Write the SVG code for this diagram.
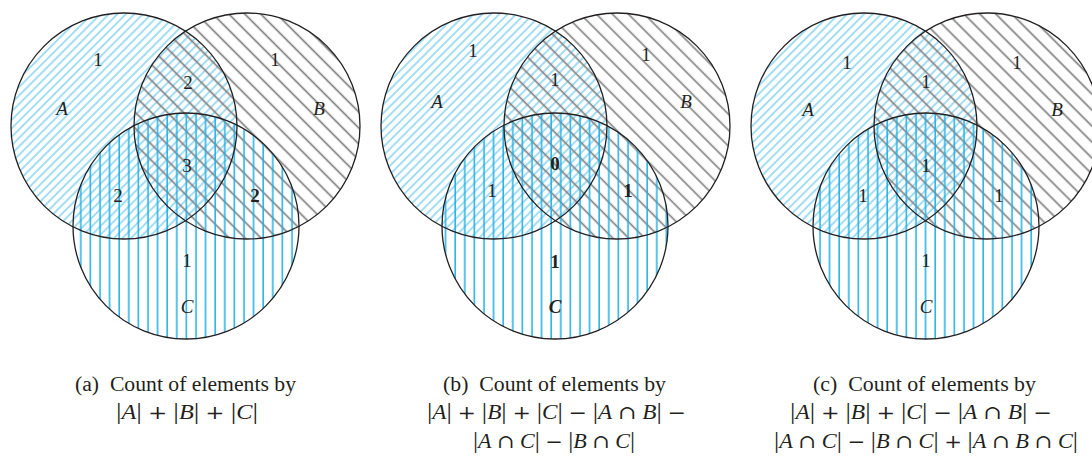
<svg xmlns="http://www.w3.org/2000/svg" width="1092" height="456" viewBox="0 0 1092 456">
<style>
.ring{fill:none;stroke:#231f20;stroke-width:1.3}
.lbl{font-family:"Liberation Serif",serif;font-size:19px;fill:#231f20;text-anchor:middle}
.it{font-style:italic}
.bd{font-weight:bold}
.cap{font-family:"Liberation Serif",serif;font-size:20px;fill:#231f20}
.bar{font-size:23px}
.op{font-family:"DejaVu Serif","Liberation Serif",serif;font-size:19px}
</style>
<defs>
<pattern id="hatchA" width="6" height="6" patternUnits="userSpaceOnUse" patternTransform="rotate(45)">
<line x1="3" y1="-1" x2="3" y2="7" stroke="#66c8ef" stroke-width="1.2"/>
</pattern>
<pattern id="hatchB" width="11.3" height="11.3" patternUnits="userSpaceOnUse" patternTransform="rotate(-45)">
<line x1="5" y1="-1" x2="5" y2="12.3" stroke="#848484" stroke-width="1.7"/>
</pattern>
<pattern id="hatchC" width="9.6" height="10" patternUnits="userSpaceOnUse">
<line x1="4" y1="-1" x2="4" y2="11" stroke="#1fb0e8" stroke-width="1.5"/>
</pattern>
</defs>

<g id="diagram-a">
<g id="a-fills">
<circle cx="124" cy="126" r="113" fill="url(#hatchA)"/>
<circle cx="247" cy="126" r="113" fill="url(#hatchB)"/>
<circle cx="186" cy="226" r="113" fill="url(#hatchC)"/>
</g>
<g id="a-set-A"><circle class="ring" cx="124" cy="126" r="113"/></g>
<g id="a-set-B"><circle class="ring" cx="247" cy="126" r="113"/></g>
<g id="a-set-C"><circle class="ring" cx="186" cy="226" r="113"/></g>
<g id="a-labels">
<text class="lbl" x="98" y="66">1</text>
<text class="lbl it" x="62" y="115">A</text>
<text class="lbl" x="188" y="89">2</text>
<text class="lbl" x="275" y="66">1</text>
<text class="lbl it" x="319" y="115">B</text>
<text class="lbl" x="187" y="172">3</text>
<text class="lbl" x="118" y="202">2</text>
<text class="lbl bd" x="255" y="202">2</text>
<text class="lbl" x="187" y="267">1</text>
<text class="lbl it" x="187" y="313">C</text>
</g>
<g id="a-caption">
<text class="cap" x="75" y="391" textLength="221" lengthAdjust="spacingAndGlyphs">(a)&#8194;Count of elements by</text>
<text class="cap" x="116" y="419" textLength="142" lengthAdjust="spacingAndGlyphs"><tspan class="bar">|</tspan><tspan class="it">A</tspan><tspan class="bar">|</tspan> <tspan class="op">+</tspan> <tspan class="bar">|</tspan><tspan class="it">B</tspan><tspan class="bar">|</tspan> <tspan class="op">+</tspan> <tspan class="bar">|</tspan><tspan class="it">C</tspan><tspan class="bar">|</tspan></text>
</g>
</g>

<g id="diagram-b">
<g id="b-fills">
<circle cx="494" cy="126" r="113" fill="url(#hatchA)"/>
<circle cx="617" cy="126" r="113" fill="url(#hatchB)"/>
<circle cx="555" cy="226" r="113" fill="url(#hatchC)"/>
</g>
<g id="b-set-A"><circle class="ring" cx="494" cy="126" r="113"/></g>
<g id="b-set-B"><circle class="ring" cx="617" cy="126" r="113"/></g>
<g id="b-set-C"><circle class="ring" cx="555" cy="226" r="113"/></g>
<g id="b-labels">
<text class="lbl" x="473" y="57">1</text>
<text class="lbl it" x="437" y="108">A</text>
<text class="lbl" x="555" y="86">1</text>
<text class="lbl" x="646" y="61">1</text>
<text class="lbl it" x="686" y="108">B</text>
<text class="lbl bd" x="555" y="170">0</text>
<text class="lbl" x="492" y="197">1</text>
<text class="lbl bd" x="628" y="197">1</text>
<text class="lbl bd" x="555" y="268">1</text>
<text class="lbl it bd" x="555" y="313">C</text>
</g>
<g id="b-caption">
<text class="cap" x="443" y="391" textLength="223" lengthAdjust="spacingAndGlyphs">(b)&#8194;Count of elements by</text>
<text class="cap" x="427" y="419" textLength="259" lengthAdjust="spacingAndGlyphs"><tspan class="bar">|</tspan><tspan class="it">A</tspan><tspan class="bar">|</tspan> <tspan class="op">+</tspan> <tspan class="bar">|</tspan><tspan class="it">B</tspan><tspan class="bar">|</tspan> <tspan class="op">+</tspan> <tspan class="bar">|</tspan><tspan class="it">C</tspan><tspan class="bar">|</tspan> <tspan class="op">−</tspan> <tspan class="bar">|</tspan><tspan class="it">A</tspan> <tspan class="op">∩</tspan> <tspan class="it">B</tspan><tspan class="bar">|</tspan> <tspan class="op">−</tspan></text>
<text class="cap" x="473" y="448" textLength="162" lengthAdjust="spacingAndGlyphs"><tspan class="bar">|</tspan><tspan class="it">A</tspan> <tspan class="op">∩</tspan> <tspan class="it">C</tspan><tspan class="bar">|</tspan> <tspan class="op">−</tspan> <tspan class="bar">|</tspan><tspan class="it">B</tspan> <tspan class="op">∩</tspan> <tspan class="it">C</tspan><tspan class="bar">|</tspan></text>
</g>
</g>

<g id="diagram-c">
<g id="c-fills">
<circle cx="864" cy="126" r="113" fill="url(#hatchA)"/>
<circle cx="987" cy="126" r="113" fill="url(#hatchB)"/>
<circle cx="926" cy="226" r="113" fill="url(#hatchC)"/>
</g>
<g id="c-set-A"><circle class="ring" cx="864" cy="126" r="113"/></g>
<g id="c-set-B"><circle class="ring" cx="987" cy="126" r="113"/></g>
<g id="c-set-C"><circle class="ring" cx="926" cy="226" r="113"/></g>
<g id="c-labels">
<text class="lbl" x="847" y="69">1</text>
<text class="lbl it" x="808" y="116">A</text>
<text class="lbl" x="926" y="88">1</text>
<text class="lbl" x="1017" y="69">1</text>
<text class="lbl it" x="1057" y="116">B</text>
<text class="lbl" x="926" y="172">1</text>
<text class="lbl" x="863" y="202">1</text>
<text class="lbl" x="999" y="202">1</text>
<text class="lbl" x="926" y="267">1</text>
<text class="lbl it" x="926" y="313">C</text>
</g>
<g id="c-caption">
<text class="cap" x="813" y="391" textLength="223" lengthAdjust="spacingAndGlyphs">(c)&#8194;Count of elements by</text>
<text class="cap" x="790" y="419" textLength="262" lengthAdjust="spacingAndGlyphs"><tspan class="bar">|</tspan><tspan class="it">A</tspan><tspan class="bar">|</tspan> <tspan class="op">+</tspan> <tspan class="bar">|</tspan><tspan class="it">B</tspan><tspan class="bar">|</tspan> <tspan class="op">+</tspan> <tspan class="bar">|</tspan><tspan class="it">C</tspan><tspan class="bar">|</tspan> <tspan class="op">−</tspan> <tspan class="bar">|</tspan><tspan class="it">A</tspan> <tspan class="op">∩</tspan> <tspan class="it">B</tspan><tspan class="bar">|</tspan> <tspan class="op">−</tspan></text>
<text class="cap" x="774" y="448" textLength="304" lengthAdjust="spacingAndGlyphs"><tspan class="bar">|</tspan><tspan class="it">A</tspan> <tspan class="op">∩</tspan> <tspan class="it">C</tspan><tspan class="bar">|</tspan> <tspan class="op">−</tspan> <tspan class="bar">|</tspan><tspan class="it">B</tspan> <tspan class="op">∩</tspan> <tspan class="it">C</tspan><tspan class="bar">|</tspan> <tspan class="op">+</tspan> <tspan class="bar">|</tspan><tspan class="it">A</tspan> <tspan class="op">∩</tspan> <tspan class="it">B</tspan> <tspan class="op">∩</tspan> <tspan class="it">C</tspan><tspan class="bar">|</tspan></text>
</g>
</g>
</svg>
